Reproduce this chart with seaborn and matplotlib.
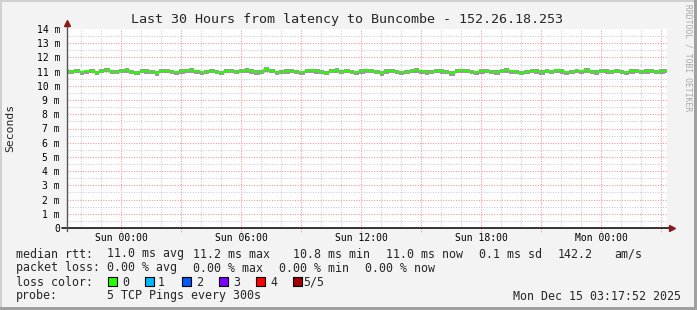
import numpy as np
import pandas as pd
import matplotlib
matplotlib.use("Agg")
import matplotlib.pyplot as plt
import matplotlib.dates as mdates
from matplotlib.patches import Rectangle
import seaborn as sns

# ---------------- data ----------------
title = "Last 30 Hours from latency to Buncombe - 152.26.18.253"
t_start = "2025-12-13 21:17:52"
t_end = "2025-12-15 03:17:52"

median_ms = [
    11.03, 10.98, 11.06, 10.95, 11.02, 11.08, 10.93, 11.07, 11.12, 11.01,
    10.96, 11.05, 11.10, 11.00, 10.92, 11.06, 11.03, 10.98, 10.90, 11.04,
    11.08, 11.00, 10.95, 11.03, 11.07, 11.11, 11.02, 10.94, 10.99, 11.05,
    11.01, 10.93, 11.04, 11.08, 10.97, 11.05, 11.10, 11.02, 10.96, 11.00,
    11.16, 11.05, 10.94, 10.99, 11.03, 11.08, 11.00, 10.95, 11.06, 11.09,
    11.02, 10.97, 10.93, 11.05, 11.11, 11.01, 11.07, 11.00, 10.95, 11.03,
    11.09, 11.04, 10.98, 10.92, 11.03, 11.08, 11.00, 10.94, 10.99, 11.06,
    11.11, 11.02, 10.96, 11.00, 11.07, 11.03, 10.98, 10.90, 11.04, 11.09,
    11.05, 10.99, 10.94, 11.03, 11.08, 11.00, 10.96, 11.06, 11.11, 11.02,
    10.98, 10.92, 11.01, 11.07, 11.03, 10.96, 11.05, 11.00, 11.09, 11.03,
    10.94, 10.99, 11.07, 11.02, 11.11, 11.00, 10.96, 11.05, 11.03, 10.98,
    11.07, 11.01, 10.94, 11.03, 11.05, 10.99, 11.03, 11.07, 11.00, 11.03,
    11.04,
]
smoke_low_ms = [
    10.86, 10.80, 10.90, 10.78, 10.85, 10.88, 10.74, 10.90, 10.94, 10.84,
    10.80, 10.88, 10.90, 10.84, 10.74, 10.90, 10.85, 10.82, 10.72, 10.87,
    10.90, 10.84, 10.78, 10.86, 10.88, 10.92, 10.85, 10.76, 10.82, 10.88,
    10.84, 10.74, 10.88, 10.90, 10.80, 10.88, 10.92, 10.85, 10.78, 10.84,
    10.96, 10.88, 10.76, 10.82, 10.86, 10.90, 10.84, 10.78, 10.88, 10.90,
    10.85, 10.80, 10.74, 10.88, 10.92, 10.84, 10.88, 10.83, 10.78, 10.86,
    10.90, 10.88, 10.80, 10.72, 10.86, 10.90, 10.84, 10.76, 10.82, 10.88,
    10.92, 10.85, 10.78, 10.84, 10.88, 10.86, 10.80, 10.70, 10.88, 10.90,
    10.88, 10.82, 10.76, 10.86, 10.90, 10.84, 10.78, 10.88, 10.92, 10.85,
    10.80, 10.74, 10.84, 10.88, 10.86, 10.78, 10.88, 10.82, 10.90, 10.86,
    10.76, 10.82, 10.90, 10.85, 10.92, 10.84, 10.78, 10.88, 10.86, 10.80,
    10.90, 10.84, 10.76, 10.86, 10.88, 10.82, 10.86, 10.90, 10.84, 10.86,
    10.87,
]
smoke_high_ms = [
    11.16, 11.12, 11.20, 11.08, 11.15, 11.22, 11.06, 11.20, 11.26, 11.14,
    11.10, 11.18, 11.24, 11.13, 11.06, 11.20, 11.16, 11.12, 11.04, 11.18,
    11.22, 11.14, 11.08, 11.16, 11.20, 11.25, 11.15, 11.08, 11.12, 11.18,
    11.14, 11.06, 11.18, 11.22, 11.10, 11.18, 11.24, 11.16, 11.09, 11.14,
    11.30, 11.19, 11.08, 11.12, 11.16, 11.22, 11.14, 11.08, 11.20, 11.22,
    11.16, 11.10, 11.06, 11.18, 11.25, 11.14, 11.20, 11.13, 11.08, 11.16,
    11.22, 11.18, 11.12, 11.05, 11.16, 11.22, 11.14, 11.07, 11.12, 11.20,
    11.24, 11.15, 11.10, 11.13, 11.20, 11.16, 11.12, 11.04, 11.18, 11.22,
    11.18, 11.12, 11.08, 11.16, 11.22, 11.13, 11.10, 11.20, 11.24, 11.15,
    11.12, 11.05, 11.14, 11.20, 11.16, 11.10, 11.18, 11.14, 11.22, 11.16,
    11.08, 11.12, 11.20, 11.15, 11.25, 11.14, 11.10, 11.18, 11.16, 11.12,
    11.20, 11.14, 11.08, 11.16, 11.18, 11.12, 11.16, 11.20, 11.13, 11.16,
    11.17,
]

y_ticks = list(range(0, 15))
y_tick_labels = ["0"] + [f"{v} m" for v in range(1, 15)]

rtt_label = "median rtt:"
rtt_items = ["11.0 ms avg", "11.2 ms max", "10.8 ms min", "11.0 ms now",
             "0.1 ms sd", "142.2", "am/s"]
loss_label = "packet loss:"
loss_items = ["0.00 % avg", "0.00 % max", "0.00 % min", "0.00 % now"]
color_label = "loss color:"
loss_color_names = ["0", "1", "2", "3", "4", "5/5"]
loss_colors = ["#26ff00", "#00b8ff", "#0059ff", "#7e00ff", "#ff0000", "#a00000"]
probe_label = "probe:"
probe_text = "5 TCP Pings every 300s"
stamp = "Mon Dec 15 03:17:52 2025"
watermark = "RRDTOOL / TOBI OETIKER"

# ---------------- layout ----------------
W, H = 697, 310
sns.set_theme(style="white")
plt.rcParams["font.family"] = ["DejaVu Sans Mono", "DejaVu Sans"]

fig = plt.figure(figsize=(W / 100, H / 100), dpi=100, facecolor="#f3f3f3")


def fx(x):
    return x / W


def fy(y):
    return 1 - y / H


# 3D-like frame
fig.add_artist(Rectangle((0, fy(2)), 1, 2 / H, transform=fig.transFigure, color="#d0d0d0", lw=0))
fig.add_artist(Rectangle((0, 0), 2 / W, 1, transform=fig.transFigure, color="#d0d0d0", lw=0))
fig.add_artist(Rectangle((fx(694), 0), 3 / W, 1, transform=fig.transFigure, color="#a0a0a0", lw=0))
fig.add_artist(Rectangle((0, 0), 1, 3 / H, transform=fig.transFigure, color="#a0a0a0", lw=0))

x0, x1, ytop, ybot = 67, 667, 29, 228
ax = fig.add_axes([fx(x0), fy(ybot), (x1 - x0) / W, (ybot - ytop) / H])
ax.set_facecolor("white")
for s in ax.spines.values():
    s.set_visible(False)

start = pd.Timestamp(t_start)
end = pd.Timestamp(t_end)
times = pd.to_datetime(np.linspace(start.value, end.value, len(median_ms)))
df = pd.DataFrame({"time": times, "median": median_ms,
                   "low": smoke_low_ms, "high": smoke_high_ms})

ax.set_xlim(start, end)
ax.set_ylim(0, 14)

# grid
dots = (0, (1, 1.3))
red_grid = "#f29a9a"
gray_grid = "#cfcfcf"
for h in pd.date_range(start.ceil("h"), end, freq="h"):
    major = h.hour % 3 == 0
    ax.axvline(h, color=red_grid if major else gray_grid, lw=0.8, ls=dots, zorder=1)
for v in np.arange(0.5, 14, 0.5):
    major = float(v).is_integer()
    ax.axhline(v, color=red_grid if major else gray_grid, lw=0.8, ls=dots, zorder=1)
for h in pd.date_range(start.ceil("3h"), end, freq="3h"):
    ax.plot([h, h], [0, -0.25], color=red_grid, lw=0.8, ls=dots, clip_on=False)

# smoke + median
ax.fill_between(df["time"], df["low"], df["high"], step="mid", color="#9a9a9a", lw=0, zorder=2)
sns.lineplot(data=df, x="time", y="median", ax=ax, color=loss_colors[0],
             lw=1.2, drawstyle="steps-mid", zorder=3)

# ticks
ax.set_yticks(y_ticks)
ax.set_yticklabels(y_tick_labels)
ax.xaxis.set_major_locator(mdates.HourLocator(byhour=range(0, 24, 6)))
ax.xaxis.set_major_formatter(mdates.DateFormatter("%a %H:%M"))
ax.tick_params(axis="x", length=0, pad=3.5, labelsize=7, colors="black")
ax.tick_params(axis="y", length=0, pad=5, labelsize=7, colors="black")
ax.set_xlabel("")
ax.set_ylabel("")
ax.grid(False)

# axes lines with arrows
ax.plot([-5 / 600, 1.0 + 5 / 600], [0, 0], color="black", lw=1.1,
        transform=ax.transAxes, clip_on=False, zorder=5)
ax.plot([1.0 + 5 / 600], [0], marker=">", ms=5, color="#8b1a1a",
        transform=ax.transAxes, clip_on=False, zorder=6)
ax.plot([0, 0], [-3 / 199, 1.0 + 6 / 199], color="#555555", lw=1.0,
        transform=ax.transAxes, clip_on=False, zorder=5)
ax.plot([0], [1.0 + 6 / 199], marker="^", ms=5, color="#8b1a1a",
        transform=ax.transAxes, clip_on=False, zorder=6)

# texts
fig.text(fx(347), fy(19), title, ha="center", va="center", fontsize=9.6)
fig.text(fx(10), fy(128), "Seconds", rotation=90, ha="center", va="center", fontsize=8.2)
fig.text(fx(688), fy(4), watermark, rotation=270, ha="center", va="top",
         fontsize=5.8, color="#a8a8a8")

fs = 8.4
fig.text(fx(16), fy(254), rtt_label, va="center", fontsize=fs)
for txt, x in zip(rtt_items, [107, 193, 293, 386, 479, 558, 614]):
    fig.text(fx(x), fy(254), txt, va="center", fontsize=fs)
fig.text(fx(16), fy(268), loss_label, va="center", fontsize=fs)
for txt, x in zip(loss_items, [107, 193, 279, 365]):
    fig.text(fx(x), fy(268), txt, va="center", fontsize=fs)
fig.text(fx(16), fy(282), color_label, va="center", fontsize=fs)
for name, col, bx, tx in zip(loss_color_names, loss_colors,
                             [108, 145, 182, 219, 256, 293],
                             [122, 158, 196, 233, 270, 303]):
    fig.add_artist(Rectangle((fx(bx), fy(286)), 9 / W, 9 / H, transform=fig.transFigure,
                             facecolor=col, edgecolor="black", lw=0.8))
    fig.text(fx(tx), fy(282), name, va="center", fontsize=fs)
fig.text(fx(16), fy(296), probe_label, va="center", fontsize=fs)
fig.text(fx(107), fy(296), probe_text, va="center", fontsize=fs)
fig.text(fx(681), fy(296), stamp, ha="right", va="center", fontsize=fs)

fig.savefig("out.png", dpi=100, facecolor=fig.get_facecolor())
